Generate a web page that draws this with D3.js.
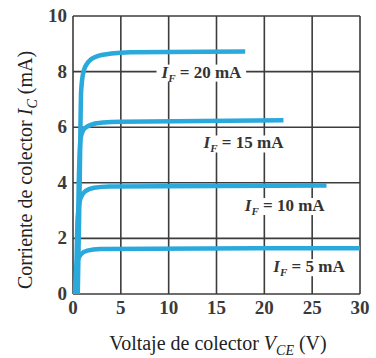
<!DOCTYPE html>
<html><head><meta charset="utf-8">
<script src="https://cdn.jsdelivr.net/npm/d3@7/dist/d3.min.js"></script>
<style>body{margin:0;background:#fff}svg{display:block}</style>
</head><body><svg id="c" width="376" height="358"></svg>
<script>
const xTicks = [0,5,10,15,20,25,30];
const yTicks = [0,2,4,6,8,10];
const seriesNames = ["20","15","10","5"];
const curve20 = [[0.5,0],[0.7,4],[0.85,7.3],[1.1,8.0],[1.6,8.35],[2.5,8.55],[4,8.65],[6,8.7],[18,8.72]];
const curve15 = [[0.4,0],[0.6,4],[0.8,5.6],[1.2,5.95],[2,6.1],[3.2,6.17],[5,6.2],[22,6.25]];
const curve10 = [[0.3,0],[0.5,2.8],[0.8,3.45],[1.3,3.7],[2.2,3.82],[3.8,3.87],[26.5,3.9]];
const curve5  = [[0.2,0],[0.4,1.1],[0.8,1.42],[1.5,1.56],[2.8,1.62],[30,1.65]];
const curves = [curve20, curve15, curve10, curve5];
const labelPos = [[17.6,8],[22,5.45],[26.3,3.2],[28.4,1.0]];

const svg = d3.select("#c");
const x = d3.scaleLinear().domain([0,30]).range([73,360]);
const y = d3.scaleLinear().domain([0,10]).range([294,16]);
const grid = "#3c3c3c";

// grid
svg.append("g").selectAll("line.v").data(xTicks).join("line")
  .attr("x1",d=>x(d)).attr("x2",d=>x(d)).attr("y1",y(10)).attr("y2",y(0))
  .attr("stroke",grid).attr("stroke-width",1.6);
svg.append("g").selectAll("line.h").data(yTicks).join("line")
  .attr("x1",x(0)).attr("x2",x(30)).attr("y1",d=>y(d)).attr("y2",d=>y(d))
  .attr("stroke",grid).attr("stroke-width",1.6);

// curves
const line = d3.line().x(d=>x(d[0])).y(d=>y(d[1])).curve(d3.curveMonotoneX);
svg.append("g").selectAll("path").data(curves).join("path")
  .attr("d",line).attr("fill","none").attr("stroke","#2aa9dc")
  .attr("stroke-width",4.5).attr("stroke-linecap","butt");

// labels
const lg = svg.append("g").attr("font-family","Liberation Serif").attr("font-weight","bold")
  .attr("font-size",17).attr("fill","#333");
seriesNames.forEach((n,i)=>{
  const g = lg.append("g");
  const t = g.append("text").attr("x",x(labelPos[i][0])).attr("y",y(labelPos[i][1])+6).attr("text-anchor","end");
  t.append("tspan").attr("font-style","italic").text("I");
  t.append("tspan").attr("font-style","italic").attr("font-size",11).attr("dy",4).text("F");
  t.append("tspan").attr("dy",-4).text(" = " + n + " mA");
  const b = t.node().getBBox();
  g.insert("rect","text").attr("x",b.x-4).attr("y",b.y+2).attr("width",b.width+8).attr("height",b.height-4).attr("fill","#fff");
});

// tick labels
const tl = svg.append("g").attr("font-family","Liberation Serif").attr("font-weight","bold")
  .attr("font-size",19).attr("fill","#3a3a3a");
tl.selectAll("text.x").data(xTicks).join("text").attr("x",d=>x(d)).attr("y",314)
  .attr("text-anchor","middle").text(d=>d);
tl.selectAll("text.y").data(yTicks).join("text").attr("x",67).attr("y",d=>y(d)+6)
  .attr("text-anchor","end").text(d=>d);

// axis titles
const xt = svg.append("text").attr("x",218).attr("y",350).attr("text-anchor","middle")
  .attr("font-family","Liberation Serif").attr("font-size",20).attr("fill","#222");
xt.append("tspan").text("Voltaje de colector ");
xt.append("tspan").attr("font-style","italic").text("V");
xt.append("tspan").attr("font-style","italic").attr("font-size",14).attr("dy",5).text("CE");
xt.append("tspan").attr("dy",-5).text(" (V)");

const yt = svg.append("text").attr("transform","translate(32,170) rotate(-90)").attr("text-anchor","middle")
  .attr("font-family","Liberation Serif").attr("font-size",20).attr("fill","#222");
yt.append("tspan").text("Corriente de colector ");
yt.append("tspan").attr("font-style","italic").text("I");
yt.append("tspan").attr("font-style","italic").attr("font-size",14).attr("dy",5).text("C");
yt.append("tspan").attr("dy",-5).text(" (mA)");
</script></body></html>
